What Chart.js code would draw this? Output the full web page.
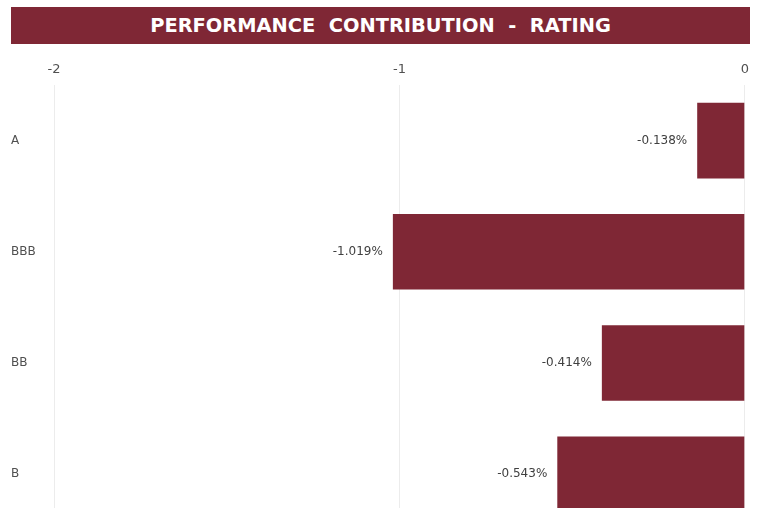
<!DOCTYPE html>
<html>
<head>
<meta charset="utf-8">
<script src="https://cdn.jsdelivr.net/npm/chart.js@4"></script>
<style>
  html, body { margin: 0; padding: 0; background: #fff; overflow: hidden; width: 757px; height: 508px; }
  #chart { position: absolute; left: 0; top: 0; }
  #title {
    position: absolute; left: 11px; top: 7px; width: 739px; height: 37px;
    background: #7f2735; color: #fff; text-align: center;
    font: bold 19.4px "DejaVu Sans", sans-serif; line-height: 37px; white-space: pre;
  }
</style>
</head>
<body>
<canvas id="chart" width="757" height="540"></canvas>
<div id="title">PERFORMANCE  CONTRIBUTION  -  RATING</div>
<script>
const ratings = ["A", "BBB", "BB", "B"];
const contribution = [-0.138, -1.019, -0.414, -0.543];
const axisMin = -2;
const axisMax = 0;

const barColor = "#7f2735";
const textColor = "#505050";

// labels placed just left of each bar's end
const valueLabels = {
  id: "valueLabels",
  afterDatasetsDraw(chart) {
    const ctx = chart.ctx;
    const meta = chart.getDatasetMeta(0);
    ctx.save();
    ctx.font = '12px "DejaVu Sans", sans-serif';
    ctx.fillStyle = "#404040";
    ctx.textAlign = "right";
    ctx.textBaseline = "middle";
    meta.data.forEach((bar, i) => {
      ctx.fillText(contribution[i].toFixed(3) + "%", bar.x - 10, bar.y);
    });
    ctx.restore();
  },
};

const ctx = document.querySelector("#chart").getContext("2d");

new Chart(ctx, {
  type: "bar",
  data: {
    labels: ratings,
    datasets: [
      {
        data: contribution,
        backgroundColor: barColor,
        borderWidth: 0,
        categoryPercentage: 1,
        barPercentage: 0.68,
      },
    ],
  },
  options: {
    indexAxis: "y",
    responsive: false,
    animation: false,
    layout: {
      padding: { left: 11, right: 11, top: 61, bottom: 1 },
    },
    scales: {
      x: {
        position: "top",
        min: axisMin,
        max: axisMax,
        ticks: {
          stepSize: 1,
          color: textColor,
          padding: 8,
          font: { family: "DejaVu Sans", size: 13 },
        },
        grid: { color: "#ececec", drawTicks: false },
        border: { display: false },
        afterFit: (scale) => {
          scale.height = 24;
        },
      },
      y: {
        ticks: {
          color: textColor,
          crossAlign: "far",
          font: { family: "DejaVu Sans", size: 12 },
        },
        grid: { display: false },
        border: { display: false },
        afterFit: (scale) => {
          scale.width = 43;
        },
      },
    },
    plugins: {
      legend: { display: false },
      tooltip: { enabled: false },
    },
  },
  plugins: [valueLabels],
});
</script>
</body>
</html>
